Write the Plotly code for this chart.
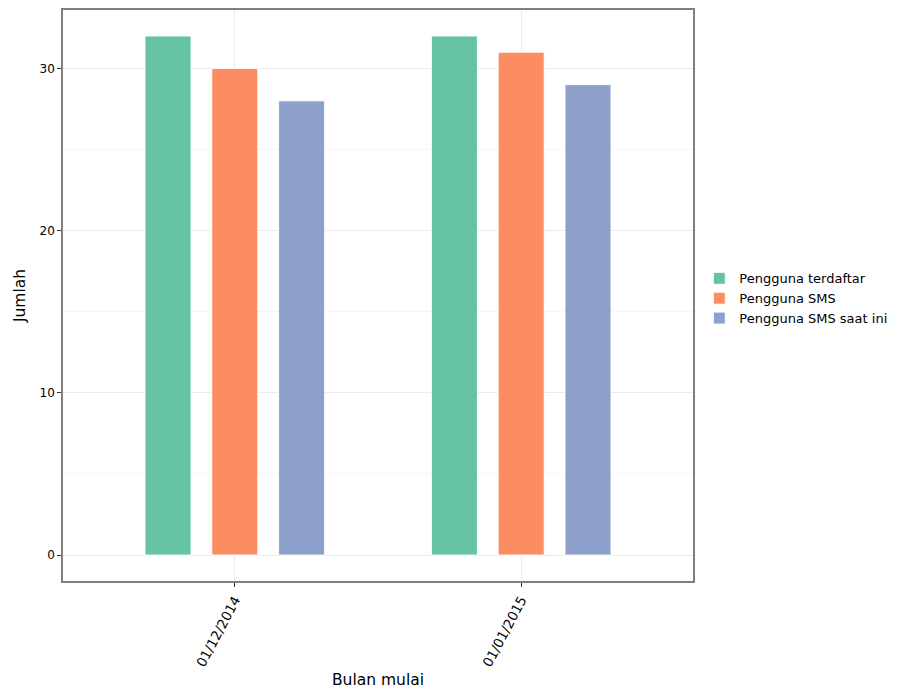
import plotly.graph_objects as go

months = ["01/12/2014", "01/01/2015"]
series_names = ["Pengguna terdaftar", "Pengguna SMS", "Pengguna SMS saat ini"]
terdaftar = [32, 32]
sms = [30, 31]
sms_saat_ini = [28, 29]
colors = ["#66c2a5", "#fc8d62", "#8da0cb"]

fig = go.Figure()
for name, vals, c in zip(series_names, [terdaftar, sms, sms_saat_ini], colors):
    fig.add_trace(go.Bar(x=months, y=vals, name=name, marker_color=c,
                         marker_line_color="white", marker_line_width=1))

font = "DejaVu Sans, Verdana, sans-serif"
fig.update_layout(
    width=906, height=686,
    margin=dict(l=55, r=221, t=0, b=113),
    barmode="group", bargap=0.3, bargroupgap=0.31,
    plot_bgcolor="white", paper_bgcolor="white",
    font=dict(family=font, size=12, color="black"),
    legend=dict(x=1.01, y=0.495, xanchor="left", yanchor="middle",
                font=dict(size=13, family=font), bgcolor="rgba(0,0,0,0)",
                itemwidth=30),
    xaxis=dict(type="category", range=[-0.6, 1.6], tickangle=-62,
               showgrid=True, gridcolor="#ebebeb", gridwidth=1,
               ticks="outside", ticklen=4, tickcolor="#333333",
               showline=True, linecolor="#7f7f7f", linewidth=1.5, mirror=True,
               tickfont=dict(size=13.5, family=font, color="black"),
               title=dict(text="Bulan mulai", font=dict(size=15.5, family=font), standoff=6)),
    yaxis=dict(range=[-1.6, 33.6], tickvals=[0, 10, 20, 30],
               showgrid=True, gridcolor="#ebebeb", gridwidth=1, zeroline=False,
               minor=dict(tickvals=[5, 15, 25], showgrid=True, gridcolor="#f5f5f5", gridwidth=0.5),
               ticks="outside", ticklen=4, tickcolor="#333333",
               showline=True, linecolor="#7f7f7f", linewidth=1.5, mirror=True,
               tickfont=dict(size=12, family=font, color="black"),
               title=dict(text="Jumlah", font=dict(size=15.5, family=font), standoff=10)),
)
fig.write_html("out.html")
